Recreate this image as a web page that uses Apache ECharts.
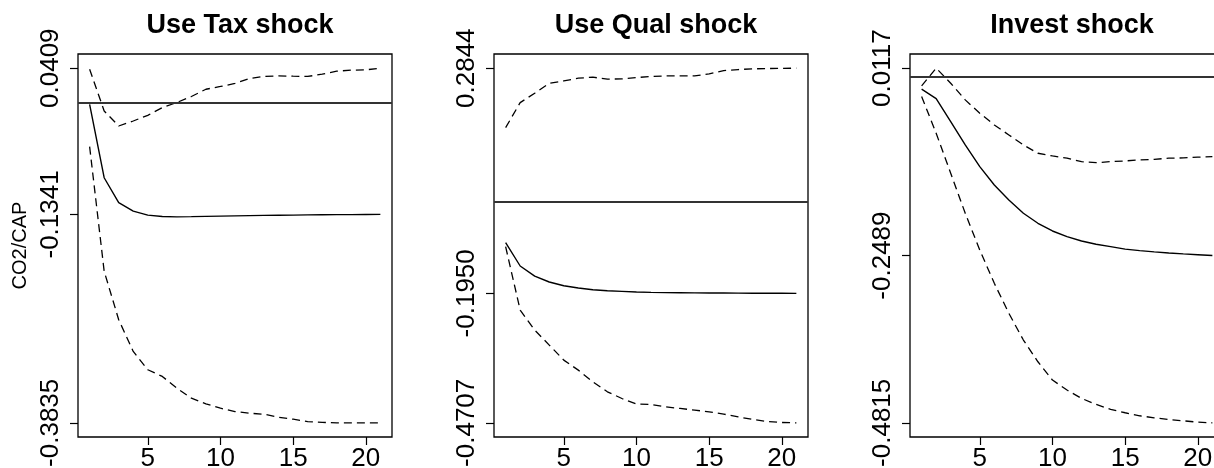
<!DOCTYPE html>
<html>
<head>
<meta charset="utf-8">
<script src="https://cdn.jsdelivr.net/npm/echarts@6/dist/echarts.min.js"></script>
<style>
html,body{margin:0;padding:0;background:#fff;}
#chart{width:1214px;height:468px;}
</style>
</head>
<body>
<div id="chart"></div>
<script>
// ---- data ----
const periods = [1,2,3,4,5,6,7,8,9,10,11,12,13,14,15,16,17,18,19,20,21];
const xTicks = [5, 10, 15, 20];
const panelTitles = ['Use Tax shock', 'Use Qual shock', 'Invest shock'];
const yAxisName = 'CO2/CAP';

// Use Tax shock
const taxLower = [-0.0530,-0.2021,-0.2601,-0.2981,-0.3200,-0.3280,-0.3420,-0.3540,-0.3608,-0.3660,-0.3700,-0.3720,-0.3732,-0.3768,-0.3792,-0.3820,-0.3830,-0.3835,-0.3835,-0.3835,-0.3835];
const taxIrf   = [-0.0023,-0.0902,-0.1201,-0.1302,-0.1350,-0.1366,-0.1370,-0.1368,-0.1365,-0.1362,-0.1359,-0.1356,-0.1353,-0.1351,-0.1349,-0.1347,-0.1345,-0.1344,-0.1343,-0.1342,-0.1341];
const taxUpper = [0.0397,-0.0103,-0.0283,-0.0223,-0.0155,-0.0062,-0.0002,0.0070,0.0157,0.0190,0.0226,0.0286,0.0310,0.0317,0.0313,0.0310,0.0337,0.0373,0.0385,0.0389,0.0409];
const taxTicks = [-0.3835, -0.1341, 0.0409];

// Use Qual shock
const qualLower = [-0.0957,-0.2306,-0.2732,-0.3052,-0.3372,-0.3585,-0.3834,-0.4047,-0.4189,-0.4309,-0.4316,-0.4366,-0.4401,-0.4437,-0.4473,-0.4522,-0.4580,-0.4636,-0.4679,-0.4700,-0.4707];
const qualIrf   = [-0.0872,-0.1368,-0.1582,-0.1709,-0.1788,-0.1837,-0.1873,-0.1895,-0.1909,-0.1923,-0.1930,-0.1935,-0.1938,-0.1940,-0.1942,-0.1944,-0.1946,-0.1947,-0.1948,-0.1949,-0.1950];
const qualUpper = [0.1578,0.2111,0.2311,0.2524,0.2573,0.2631,0.2652,0.2610,0.2617,0.2645,0.2666,0.2681,0.2681,0.2681,0.2723,0.2793,0.2815,0.2830,0.2837,0.2839,0.2844];
const qualTicks = [-0.4707, -0.1950, 0.2844];

// Invest shock
const invLower = [-0.0278,-0.0788,-0.1344,-0.1901,-0.2412,-0.2875,-0.3292,-0.3664,-0.3966,-0.4220,-0.4359,-0.4475,-0.4559,-0.4629,-0.4675,-0.4717,-0.4745,-0.4768,-0.4787,-0.4806,-0.4815];
const invIrf   = [-0.0175,-0.0306,-0.0626,-0.0950,-0.1252,-0.1507,-0.1716,-0.1901,-0.2040,-0.2147,-0.2226,-0.2286,-0.2332,-0.2365,-0.2400,-0.2420,-0.2438,-0.2453,-0.2466,-0.2478,-0.2489];
const invUpper = [-0.0129,0.0117,-0.0092,-0.0324,-0.0509,-0.0672,-0.0811,-0.0950,-0.1066,-0.1103,-0.1135,-0.1183,-0.1197,-0.1183,-0.1173,-0.1159,-0.1150,-0.1135,-0.1131,-0.1121,-0.1113];
const invTicks = [-0.4815, -0.2489, 0.0117];

// ---- chart ----
const FONT = '"Liberation Sans", Arial, Helvetica, sans-serif';
const panels = [
  {title: panelTitles[0], lower: taxLower, irf: taxIrf, upper: taxUpper, ticks: taxTicks},
  {title: panelTitles[1], lower: qualLower, irf: qualIrf, upper: qualUpper, ticks: qualTicks},
  {title: panelTitles[2], lower: invLower, irf: invIrf, upper: invUpper, ticks: invTicks}
];
const gridLefts = [78, 494, 910];
const GW = 314, GT = 54, GH = 383;

const pairs = arr => periods.map((t, i) => [t, arr[i]]);

const option = {
  animation: false,
  backgroundColor: '#fff',
  title: [], grid: [], xAxis: [], yAxis: [], series: []
};

panels.forEach((p, i) => {
  const all = p.lower.concat(p.irf, p.upper, [0]);
  const lo = Math.min.apply(null, all), hi = Math.max.apply(null, all);
  const pad = (hi - lo) * 0.04;
  option.title.push({
    text: p.title,
    left: gridLefts[i] + GW / 2,
    top: 7,
    textAlign: 'center',
    textStyle: {fontFamily: FONT, fontSize: 27, fontWeight: 'bold', color: '#000'}
  });
  option.grid.push({
    left: gridLefts[i], top: GT, width: GW, height: GH,
    containLabel: false, outerBoundsMode: 'none',
    show: true, borderColor: '#000', borderWidth: 1.3, backgroundColor: 'transparent'
  });
  option.xAxis.push({
    type: 'value', gridIndex: i, min: 0.2, max: 21.8,
    axisLine: {show: false, onZero: false},
    splitLine: {show: false},
    axisTick: {show: true, length: 8, customValues: xTicks, lineStyle: {color: '#000', width: 1.2}},
    axisLabel: {customValues: xTicks, fontFamily: FONT, fontSize: 26, color: '#000', margin: 9}
  });
  option.yAxis.push({
    type: 'value', gridIndex: i, min: lo - pad, max: hi + pad,
    name: i === 0 ? yAxisName : '',
    nameLocation: 'middle', nameRotate: 90, nameGap: 48,
    nameTextStyle: {fontFamily: FONT, fontSize: 20, color: '#000'},
    axisLine: {show: false, onZero: false},
    splitLine: {show: false},
    axisTick: {show: true, length: 8, customValues: p.ticks, lineStyle: {color: '#000', width: 1.2}},
    axisLabel: {customValues: p.ticks, rotate: 90, fontFamily: FONT, fontSize: 26, color: '#000', margin: 14,
      formatter: v => v.toFixed(4)}
  });
  const dashed = {color: '#000', width: 1.3, type: [8, 5]};
  option.series.push(
    {type: 'line', xAxisIndex: i, yAxisIndex: i, data: pairs(p.lower), symbol: 'none', lineStyle: dashed, silent: true},
    {type: 'line', xAxisIndex: i, yAxisIndex: i, data: pairs(p.irf), symbol: 'none',
      lineStyle: {color: '#000', width: 1.4}, silent: true,
      markLine: {silent: true, symbol: 'none', label: {show: false},
        lineStyle: {color: '#333', width: 2, type: 'solid'}, data: [{yAxis: 0}]}},
    {type: 'line', xAxisIndex: i, yAxisIndex: i, data: pairs(p.upper), symbol: 'none', lineStyle: dashed, silent: true}
  );
});

const chart = echarts.init(document.getElementById('chart'), null, {renderer: 'canvas'});
chart.setOption(option);
</script>
</body>
</html>
